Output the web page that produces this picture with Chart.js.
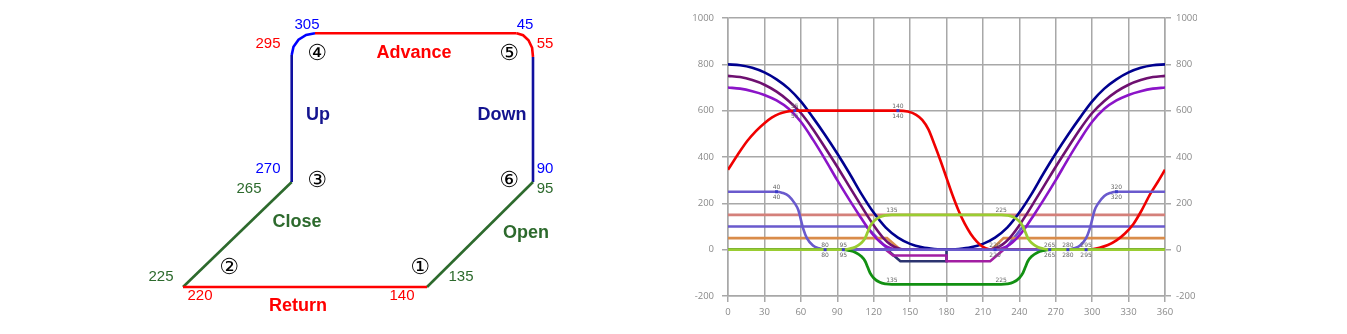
<!DOCTYPE html>
<html>
<head>
<meta charset="utf-8">
<script src="https://cdn.jsdelivr.net/npm/chart.js@4.4.1/dist/chart.umd.min.js"></script>
<style>
  html, body { margin: 0; padding: 0; background: #fff; }
  #wrap { position: relative; width: 1347px; height: 334px; }
  #diagram { position: absolute; left: 0; top: 0; }
  #cam { position: absolute; left: 680px; top: 0; }
</style>
</head>
<body>
<div id="wrap">
  <canvas id="diagram" width="680" height="334"></canvas>
  <canvas id="cam" width="667" height="334"></canvas>
</div>
<script>
// ---- cycle diagram (left), in diagram units ----
const returnPath  = [[183, 287], [427, 287]];
const openPath    = [[427, 287], [533, 182]];
const downPath    = [[533, 182], [533, 57]];
const advanceArc  = [[533, 57], [532.1, 47.8], [528.5, 40.2], [523.1, 35.2], [516.7, 33.3]];
const advancePath = [[516.7, 33.3], [315, 33.3]];
const upArc       = [[315, 33.3], [306.1, 34.9], [298.5, 39.7], [293.5, 46.7], [291.7, 55]];
const upPath      = [[291.7, 55], [291.7, 182]];
const closePath   = [[291.7, 182], [183, 287]];

// text: [label, x, y, kind]
const diagramText = [
  ['305', 307, 25, 'blue'], ['45', 525, 25, 'blue'],
  ['295', 268, 44, 'red'], ['55', 545, 44, 'red'],
  ['\u2463', 317, 54, 'circ'], ['\u2464', 509, 54, 'circ'],
  ['Advance', 414, 53, 'redB'],
  ['Up', 318, 115, 'navyB'], ['Down', 502, 115, 'navyB'],
  ['270', 268, 169, 'blue'], ['90', 545, 169, 'blue'],
  ['\u2462', 317, 181, 'circ'], ['\u2465', 509, 181, 'circ'],
  ['265', 249, 189, 'green'], ['95', 545, 189, 'green'],
  ['Close', 297, 222, 'greenB'], ['Open', 526, 233, 'greenB'],
  ['225', 161, 277, 'green'], ['135', 461, 277, 'green'],
  ['\u2461', 229, 268, 'circ'], ['\u2460', 420, 268, 'circ'],
  ['220', 200, 296, 'red'], ['140', 402, 296, 'red'],
  ['Return', 298, 306, 'redB']
];

// ---- cam displacement chart (right): [degree, value] ----
const navyCam = [[0,800],[10,796],[20,785],[30,765],[40,735],[50,695],[60,640],[70,570],[80,495],[90,415],[100,330],[110,240],[120,160],[130,95],[140,52],[150,25],[160,10],[170,3],[180,0],
  [190,3],[200,10],[210,25],[220,52],[230,95],[240,160],[250,240],[260,330],[270,415],[280,495],[290,570],[300,640],[310,695],[320,735],[330,765],[340,785],[350,796],[360,800]];
const plumCam = [[0,750],[10,745],[20,732],[30,712],[40,682],[50,642],[60,590],[70,520],[80,440],[90,358],[100,272],[108,204],[115,145],[122,90],[128,50],[134,22],[140,6],[146,0],
  [214,0],[220,6],[226,22],[232,50],[238,90],[245,145],[252,204],[260,272],[270,358],[280,440],[290,520],[300,590],[310,642],[320,682],[330,712],[340,732],[350,745],[360,750]];
const violetCam = [[0,700],[10,695],[20,684],[30,668],[40,644],[50,608],[60,552],[70,475],[80,390],[90,300],[100,215],[108,150],[115,95],[122,50],[128,22],[134,6],[140,0],
  [220,0],[226,6],[232,22],[238,50],[245,95],[252,150],[260,215],[270,300],[280,390],[290,475],[300,552],[310,608],[320,644],[330,668],[340,684],[350,695],[360,700]];
const advanceCam = [[0,345],[8,410],[16,470],[23,512],[30,546],[36,570],[42,586],[48,595],[55,600],[140,600],[148,596],[155,582],[160,560],[165,520],[170,455],
  [175,385],[180,310],[185,235],[190,168],[195,112],[200,68],[205,35],[210,12],[215,2],[220,0],[295,0],[300,2],[306,8],[313,20],[320,40],[327,70],
  [334,111],[341,172],[348,242],[354,292],[360,345]];
const liftCam = [[0,250],[40,250],[45,245],[50,232],[55,200],[58,170],[60,130],[62,90],[65,50],[70,18],[75,6],[80,0],
  [280,0],[285,6],[290,18],[295,50],[298,90],[300,130],[302,170],[305,200],[310,232],[315,245],[320,250],[360,250]];
const openCam = [[0,0],[95,0],[100,4],[105,12],[110,30],[113,50],[115,75],[117,100],[120,122],[125,141],[130,148],[135,150],
  [225,150],[230,148],[235,141],[240,122],[243,100],[245,75],[247,50],[250,30],[255,12],[260,4],[265,0],[360,0]];
const closeCam = [[0,0],[95,0],[100,-4],[105,-12],[110,-30],[113,-50],[115,-75],[117,-100],[120,-122],[125,-141],[130,-148],[135,-150],
  [225,-150],[230,-148],[235,-141],[240,-122],[243,-100],[245,-75],[247,-50],[250,-30],[255,-12],[260,-4],[265,0],[360,0]];
const rosyLine    = [[0,150],[360,150]];
const slateLine   = [[0,100],[114,100],[132,0],[228,0],[243,100],[360,100]];
const orangeLine  = [[0,50],[131,50],[142,0],[217,0],[227,50],[360,50]];
const inkLine     = [[0,0],[131,0],[142,-50],[180,-50],[180,0],[360,0]];
const magentaLine = [[0,0],[130,0],[136,-25],[180,-25],[180,-50],[216,-50],[227,0],[360,0]];

const pairedMarks = [[55,600],[140,600],[40,250],[80,0],[95,0],[220,0],[265,0],[280,0],[295,0],[320,250]];
const singleMarks = [[135,150],[135,-150],[225,150],[225,-150]];

const xTicks = [0, 360, 30];
const yTicks = [-200, 1000, 200];

const pts = arr => arr.map(p => ({ x: p[0], y: p[1] }));

// ---------- left diagram ----------
const textStyles = {
  blue:   { color: '#0000ff', font: '15px "Liberation Sans", Arial' },
  red:    { color: '#ff0000', font: '15px "Liberation Sans", Arial' },
  green:  { color: '#2d6a2d', font: '15px "Liberation Sans", Arial' },
  circ:   { color: '#000000', font: '22px "DejaVu Sans"' },
  redB:   { color: '#ff0000', font: 'bold 18px "Liberation Sans", Arial' },
  navyB:  { color: '#14148f', font: 'bold 18px "Liberation Sans", Arial' },
  greenB: { color: '#2d6a2d', font: 'bold 18px "Liberation Sans", Arial' }
};

const diagramLabels = {
  id: 'diagramLabels',
  afterDatasetsDraw(chart) {
    const { ctx, scales: { x, y } } = chart;
    ctx.save();
    ctx.textAlign = 'center';
    ctx.textBaseline = 'middle';
    diagramText.forEach(([t, tx, ty, kind]) => {
      const st = textStyles[kind];
      ctx.fillStyle = st.color;
      ctx.font = st.font;
      ctx.fillText(t, x.getPixelForValue(tx), y.getPixelForValue(ty));
    });
    ctx.restore();
  }
};

const seg = (data, color) => ({
  data: pts(data), showLine: true, borderColor: color, borderWidth: 2.6,
  pointRadius: 0, tension: 0, fill: false
});

new Chart(document.getElementById('diagram').getContext('2d'), {
  type: 'scatter',
  data: {
    datasets: [
      seg(returnPath, '#ff0000'),
      seg(openPath, '#2d6a2d'),
      seg(downPath, '#1010a0'),
      seg(advanceArc, '#ff0000'),
      seg(advancePath, '#ff0000'),
      seg(upArc, '#0000ff'),
      seg(upPath, '#1010a0'),
      seg(closePath, '#2d6a2d')
    ]
  },
  options: {
    responsive: false,
    animation: false,
    layout: { padding: 0 },
    plugins: { legend: { display: false }, tooltip: { enabled: false } },
    scales: {
      x: { type: 'linear', display: false, min: 0, max: 680 },
      y: { type: 'linear', display: false, min: 0, max: 334, reverse: true }
    }
  },
  plugins: [diagramLabels]
});

// ---------- right cam chart ----------
const markLabels = {
  id: 'markLabels',
  afterDatasetsDraw(chart) {
    const { ctx, scales: { x, y } } = chart;
    ctx.save();
    ctx.font = '6px "DejaVu Sans"';
    ctx.textAlign = 'center';
    ctx.textBaseline = 'middle';
    const dot = (px, py) => {
      ctx.fillStyle = '#3b3bc8';
      ctx.fillRect(px - 1.5, py - 1.5, 3, 3);
    };
    pairedMarks.forEach(([d, v]) => {
      const px = x.getPixelForValue(d), py = y.getPixelForValue(v);
      dot(px, py);
      ctx.fillStyle = '#666';
      ctx.fillText(String(d), px, py - 4.5);
      ctx.fillText(String(d), px, py + 5.5);
    });
    singleMarks.forEach(([d, v]) => {
      const px = x.getPixelForValue(d), py = y.getPixelForValue(v);
      ctx.fillStyle = '#666';
      ctx.fillText(String(d), px, py - 4);
    });
    ctx.restore();
  }
};

const curve = (data, color, width) => ({
  data: pts(data), borderColor: color, borderWidth: width || 2.6,
  pointRadius: 0, fill: false, cubicInterpolationMode: 'monotone'
});
const straight = (data, color) => ({
  data: pts(data), borderColor: color, borderWidth: 2.6,
  pointRadius: 0, fill: false, tension: 0
});

const gridColor = '#a8a8a8';
const tickFont = { family: '"Open Sans", Arial', size: 9.5 };
const plainTick = v => String(v);

new Chart(document.getElementById('cam').getContext('2d'), {
  type: 'line',
  data: {
    // first dataset is drawn on top
    datasets: [
      curve(openCam, '#9acd32', 2.8),
      curve(closeCam, '#129012', 2.8),
      curve(liftCam, '#6a5acd'),
      curve(advanceCam, '#f00000'),
      curve(navyCam, '#00008f'),
      curve(plumCam, '#6e1070'),
      curve(violetCam, '#8b14c8'),
      straight(magentaLine, '#a21ea2'),
      straight(inkLine, '#2c3470'),
      straight(orangeLine, '#d98c4a'),
      straight(slateLine, '#6a5acd'),
      straight(rosyLine, '#d4807a')
    ]
  },
  options: {
    responsive: false,
    animation: false,
    layout: { padding: { top: 18, right: 150, bottom: 12, left: 0 } },
    plugins: { legend: { display: false }, tooltip: { enabled: false } },
    scales: {
      x: {
        type: 'linear', min: xTicks[0], max: xTicks[1],
        ticks: { stepSize: xTicks[2], color: '#8a8a8a', font: tickFont, padding: 5, callback: plainTick },
        grid: { color: gridColor, lineWidth: 1.5, tickLength: 6 },
        border: { color: gridColor, width: 1.5 },
        afterFit: s => { s.height = 26; }
      },
      y: {
        type: 'linear', min: yTicks[0], max: yTicks[1],
        ticks: { stepSize: yTicks[2], color: '#8a8a8a', font: tickFont, padding: 8, callback: plainTick },
        grid: { color: gridColor, lineWidth: 1.5, tickLength: 6 },
        border: { color: gridColor, width: 1.5 },
        afterFit: s => { s.width = 48; }
      },
      y2: {
        type: 'linear', position: 'right', min: yTicks[0], max: yTicks[1],
        ticks: { stepSize: yTicks[2], color: '#8a8a8a', font: tickFont, padding: 5, callback: plainTick },
        grid: { drawOnChartArea: false, color: gridColor, lineWidth: 1.5, tickLength: 6 },
        border: { color: gridColor, width: 1.5 },
        afterFit: s => { s.width = 32; }
      }
    }
  },
  plugins: [markLabels]
});
</script>
</body>
</html>
